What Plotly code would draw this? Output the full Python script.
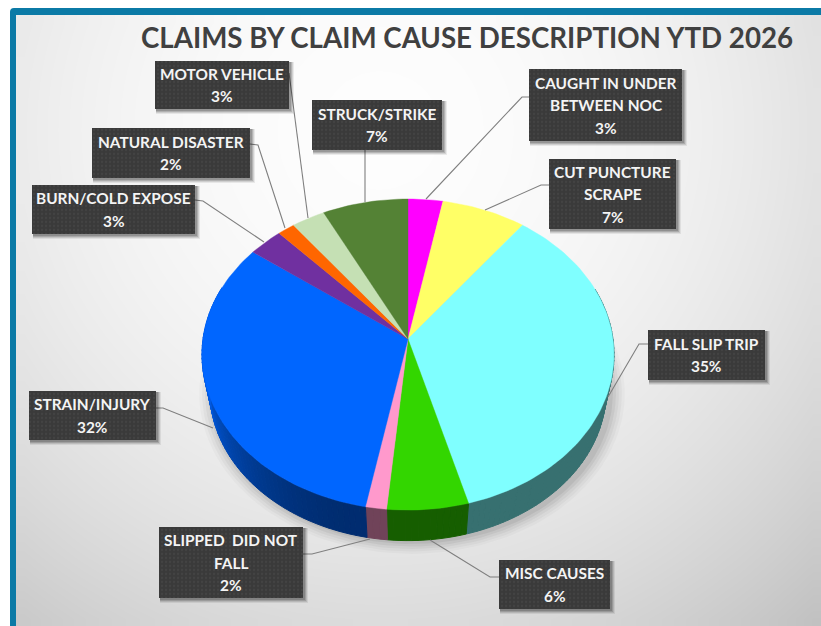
import math
import plotly.graph_objects as go

TITLE = "CLAIMS BY CLAIM CAUSE DESCRIPTION YTD 2026"
# Data, clockwise from 12 o'clock
categories = ["CAUGHT IN UNDER<br>BETWEEN NOC", "CUT PUNCTURE<br>SCRAPE", "FALL SLIP TRIP", "MISC CAUSES",
              "SLIPPED  DID NOT<br>FALL", "STRAIN/INJURY", "BURN/COLD EXPOSE", "NATURAL DISASTER",
              "MOTOR VEHICLE", "STRUCK/STRIKE"]
values = [3.0, 7.3, 35.4, 5.8, 1.5, 32.2, 3.0, 1.5, 2.9, 7.4]
percent_labels = ["3%", "7%", "35%", "6%", "2%", "32%", "3%", "2%", "3%", "7%"]
colors = ["#FF00FF", "#FFFF66", "#7FFFFF", "#33D600", "#FF99CC", "#0066FF", "#7030A0", "#FF6600", "#C5E0B4", "#548235"]

# Layout: label boxes (x0, y0, x1, y1) and leader polylines, in page pixels
boxes = [(529, 69, 682, 141), (549, 159, 676, 229), (648, 330, 765, 380), (499, 560, 610, 609),
         (159, 527, 303, 598), (29, 391, 156, 440), (32, 185, 195, 234), (92, 128, 250, 178),
         (155, 61, 289, 109), (312, 100, 442, 150)]
leaders = [[(529, 97), (522, 97), (426, 199)], [(549, 185), (541, 185), (485, 210)],
           [(648, 344), (639, 344), (608, 397)], [(499, 577), (490, 577), (430, 540)],
           [(303, 554), (312, 554), (370, 539)], [(156, 408), (163, 408), (213, 428)],
           [(195, 200), (203, 201), (264, 242)], [(250, 144), (258, 145), (285, 228)],
           [(289, 73), (308, 218)], [(365, 150), (365, 202)]]

W, H = 821, 626
CX, CY = 408, 339
K = 0.1
LINE_STEP = 22.5


def top_pt(t):
    w = 1 + K * math.cos(t)
    return CX + 205 * math.sin(t) / w, CY - 154 * math.cos(t) / w


def low_pt(t, s=1.0, dx=0.0, dy=0.0):
    w = 1 + K * math.cos(t)
    return CX + dx + 197 * s * math.sin(t) / w, 376.6 + dy - 147.6 * s * math.cos(t) / w


def mix(hexcol, f):
    r, g, b = [int(hexcol[i:i + 2], 16) for i in (1, 3, 5)]
    return f"rgb({int(r * f)},{int(g * f)},{int(b * f)})"


def wall_shade(t):
    # dark along the front and right, lighter toward the left edge
    d = math.degrees(t) % 360
    if d > 195:
        return 0.44 + 0.46 * min(1, (d - 195) / 65) ** 1.6
    return 0.44


fig = go.Figure()

# Background gradient
nx, ny = 50, 40
gx = [16 + (W - 16) * i / nx for i in range(nx + 1)]
gy = [15 + (H - 15) * j / ny for j in range(ny + 1)]
gz = [[253 - 0.00014 * math.hypot((gx[i] + gx[i + 1]) / 2 - 380, (gy[j] + gy[j + 1]) / 2 - 130) ** 2 for i in range(nx)]
      for j in range(ny)]
fig.add_trace(go.Heatmap(x=gx, y=gy, z=gz, zmin=0, zmax=255, zsmooth="best", showscale=False, hoverinfo="skip",
                         colorscale=[[0, "#000000"], [1, "#ffffff"]]))

# Soft shadow of the pie
for s, a in [(1.075, .025), (1.06, .03), (1.045, .04), (1.03, .05), (1.015, .06)]:
    pts = [low_pt(2 * math.pi * i / 180, s, 4, 1) for i in range(181)]
    fig.add_trace(go.Scatter(x=[p[0] for p in pts], y=[p[1] for p in pts], mode="lines", fill="toself",
                             fillcolor=f"rgba(0,0,0,{a})", line=dict(width=0), hoverinfo="skip", showlegend=False))

# Slice wall and top face, angles derived from the values
total = sum(values)
start = 0.0
walls, faces = [], []
for val, col in zip(values, colors):
    a0 = start / total * 2 * math.pi
    a1 = (start + val) / total * 2 * math.pi
    start += val
    steps = max(2, int(math.degrees(a1 - a0) / 1.5))
    ang = [a0 + (a1 - a0) * i / steps for i in range(steps + 1)]
    for t0, t1 in zip(ang[:-1], ang[1:]):
        if math.radians(70) < (t0 + t1) / 2 < math.radians(290):
            pts = [top_pt(t0), top_pt(t1), low_pt(t1), low_pt(t0)]
            c = mix(col, wall_shade((t0 + t1) / 2))
            walls.append(go.Scatter(x=[p[0] for p in pts] + [pts[0][0]], y=[p[1] for p in pts] + [pts[0][1]],
                                    mode="lines", fill="toself", fillcolor=c, line=dict(width=1, color=c),
                                    hoverinfo="skip", showlegend=False))
    rim = [top_pt(t) for t in ang]
    xs = [CX] + [p[0] for p in rim] + [CX]
    ys = [CY] + [p[1] for p in rim] + [CY]
    faces.append(go.Scatter(x=xs, y=ys, mode="lines", fill="toself", fillcolor=col, line=dict(width=0.4, color=col),
                            hoverinfo="skip", showlegend=False))
fig.add_traces(walls)
fig.add_traces(faces)

# Leaders
for ln in leaders:
    fig.add_trace(go.Scatter(x=[p[0] for p in ln], y=[p[1] for p in ln], mode="lines",
                             line=dict(color="#7f7f7f", width=1.1), hoverinfo="skip", showlegend=False))

# Label boxes
annotations = []
for (x0, y0, x1, y1), cat, pct in zip(boxes, categories, percent_labels):
    for off, a in [(5, .07), (4, .10), (3, .14), (2, .16)]:
        fig.add_trace(go.Scatter(x=[x0 + 1, x1 + off, x1 + off, x0 + 1, x0 + 1],
                                 y=[y0 + 1, y0 + 1, y1 + off, y1 + off, y0 + 1], mode="lines", fill="toself",
                                 fillcolor=f"rgba(0,0,0,{a})", line=dict(width=0), hoverinfo="skip", showlegend=False))
    fig.add_trace(go.Scatter(x=[x0, x1, x1, x0, x0], y=[y0, y0, y1, y1, y0], mode="lines", fill="toself",
                             fillcolor="#3c3c3c", line=dict(width=0), hoverinfo="skip", showlegend=False,
                             fillpattern=dict(shape=".", bgcolor="#3a3a3a", fgcolor="#4c4c4c", size=4, solidity=0.25)))
    lines = cat.split("<br>") + [pct]
    for i, txt in enumerate(lines):
        annotations.append(dict(x=(x0 + x1) / 2, y=(y0 + y1) / 2 + (i - (len(lines) - 1) / 2) * LINE_STEP,
                                xref="x", yref="y", showarrow=False, align="center", text=f"<b>{txt}</b>",
                                font=dict(family="Lato", size=15.4, color="#f4f4f4")))

annotations.append(dict(x=467, y=37, xref="x", yref="y", showarrow=False, text=f"<b>{TITLE}</b>",
                        font=dict(family="Lato", size=27.7, color="#404040")))

fig.update_layout(
    width=W, height=H, margin=dict(l=0, r=0, t=0, b=0), paper_bgcolor="#ffffff", plot_bgcolor="#ffffff",
    showlegend=False, annotations=annotations,
    xaxis=dict(range=[0, W], visible=False, fixedrange=True),
    yaxis=dict(range=[H, 0], visible=False, fixedrange=True),
    shapes=[dict(type="path", xref="x", yref="y", layer="above", line=dict(width=0), fillcolor="#0b7aa6",
                 path=f"M10,{H} L10,12 Q10,8 14,8 L{W},8 L{W},15 L16,15 L16,{H} Z")],
)
fig.write_html("out.html", config={"displayModeBar": False},
               post_script="document.body.style.margin='0';document.body.style.overflow='hidden';")
